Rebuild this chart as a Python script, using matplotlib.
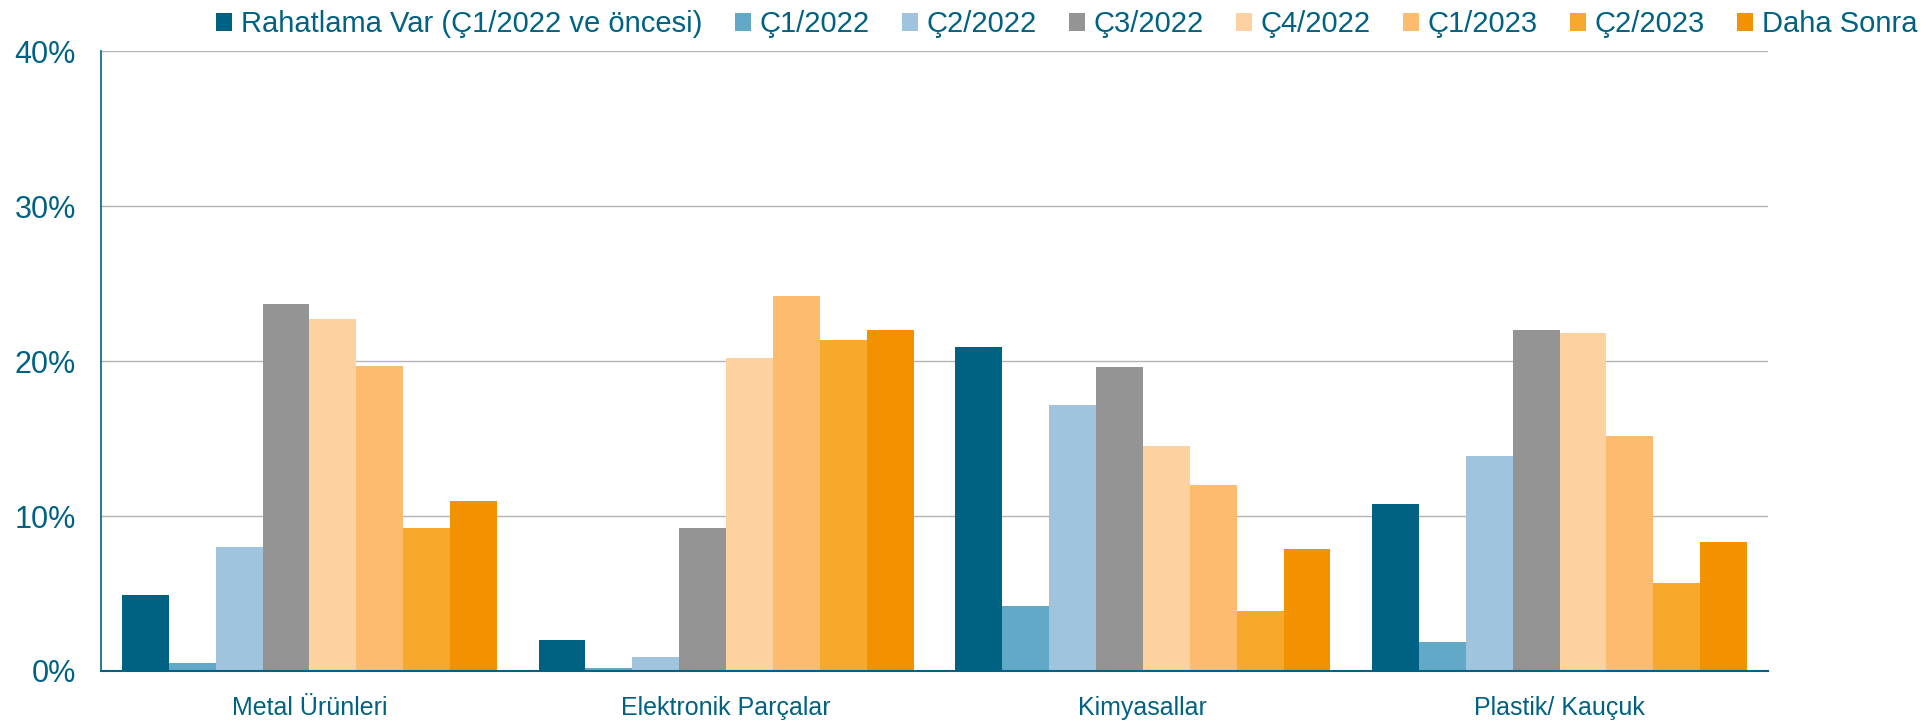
import numpy as np
import matplotlib.pyplot as plt
from matplotlib.ticker import PercentFormatter

plt.rcParams['font.family'] = ['Liberation Sans', 'DejaVu Sans']

# Kategoriler ve seriler
kategoriler = ['Metal Ürünleri', 'Elektronik Parçalar', 'Kimyasallar', 'Plastik/ Kauçuk']
seri_adlari = ['Rahatlama Var (Ç1/2022 ve öncesi)', 'Ç1/2022', 'Ç2/2022', 'Ç3/2022',
               'Ç4/2022', 'Ç1/2023', 'Ç2/2023', 'Daha Sonra']

rahatlama_var = [4.9, 2.0, 20.9, 10.8]
c1_2022 = [0.5, 0.2, 4.2, 1.9]
c2_2022 = [8.0, 0.9, 17.2, 13.9]
c3_2022 = [23.7, 9.2, 19.6, 22.0]
c4_2022 = [22.7, 20.2, 14.5, 21.8]
c1_2023 = [19.7, 24.2, 12.0, 15.2]
c2_2023 = [9.2, 21.4, 3.9, 5.7]
daha_sonra = [11.0, 22.0, 7.9, 8.3]

seriler = [rahatlama_var, c1_2022, c2_2022, c3_2022, c4_2022, c1_2023, c2_2023, daha_sonra]
renkler = ['#006283', '#62A9C7', '#A0C4DE', '#949494', '#FDD1A0', '#FDBB6D', '#F7A92E', '#F39200']

metin_rengi = '#006283'

fig = plt.figure(figsize=(19.28, 7.25), dpi=100)
ax = fig.add_axes([0.0524, 0.0745, 0.8646, 0.8545])

x = np.arange(len(kategoriler)) + 0.5
n = len(seriler)
genislik = 0.9 / n
for i, (vals, renk, ad) in enumerate(zip(seriler, renkler, seri_adlari)):
    ofset = (i - (n - 1) / 2) * genislik
    ax.bar(x + ofset, vals, width=genislik, color=renk, label=ad, zorder=3)

ax.set_xlim(0, 4)
ax.set_ylim(0, 40)
ax.set_yticks([0, 10, 20, 30, 40])
ax.yaxis.set_major_formatter(PercentFormatter(decimals=0))
ax.set_xticks(x)
ax.set_xticklabels(kategoriler)

ax.grid(axis='y', color='#B4B4B4', linewidth=1.0, zorder=0)
ax.spines['top'].set_visible(False)
ax.spines['right'].set_visible(False)
ax.spines['left'].set_color(metin_rengi)
ax.spines['bottom'].set_color(metin_rengi)
ax.spines['left'].set_linewidth(1.2)
ax.spines['bottom'].set_linewidth(1.5)
ax.spines['bottom'].set_zorder(4)

ax.tick_params(axis='y', length=0, pad=18, labelsize=22, labelcolor=metin_rengi)
ax.tick_params(axis='x', length=0, pad=18, labelsize=18, labelcolor=metin_rengi)

fig.legend(loc='upper right', bbox_to_anchor=(1.008, 1.022), ncol=8, frameon=False,
           fontsize=21, labelcolor=metin_rengi, handlelength=0.55, handleheight=0.6,
           handletextpad=0.3, columnspacing=1.1)

fig.savefig('out.png', dpi=100, facecolor='white')
